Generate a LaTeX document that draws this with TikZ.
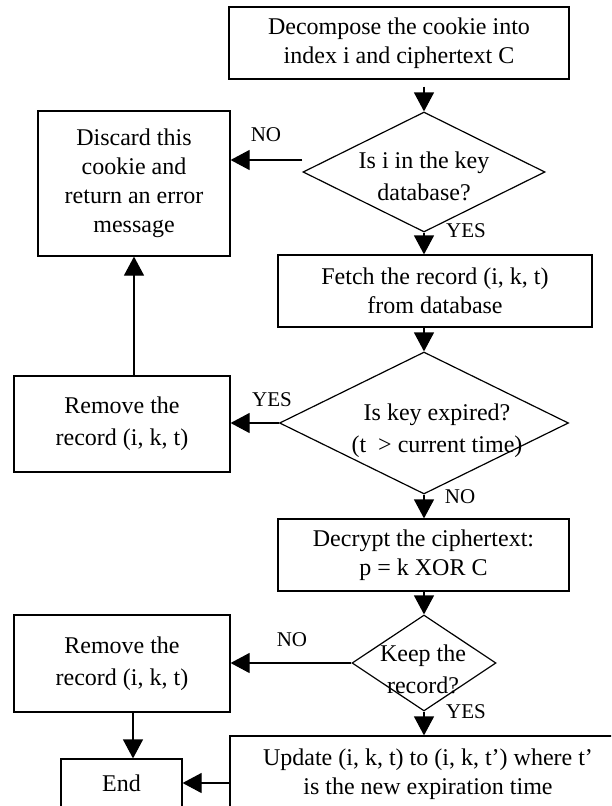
\documentclass[tikz,border=0pt]{standalone}
\usepackage{fontspec}
\setmainfont{Liberation Serif}
\usetikzlibrary{shapes.geometric,arrows.meta}
\begin{document}
\begin{tikzpicture}[x=1pt,y=-1pt,
 box/.style={draw,line width=1.2pt,inner sep=0pt,align=center,font=\fontsize{24}{29}\selectfont},
 dia/.style={draw,diamond,line width=1.2pt,inner sep=0pt},
 txt/.style={align=center,font=\fontsize{24}{29}\selectfont,inner sep=0pt},
 lab/.style={font=\fontsize{21}{24}\selectfont,inner sep=0pt},
 arr/.style={line width=1.2pt,-{Triangle[length=19pt,width=20pt]}}]
\clip (0,0) rectangle (611,806);
\node[box,minimum width=340pt,minimum height=72pt] (b1) at (399,43) {Decompose the cookie into\\index i and ciphertext C};
\node[dia,minimum width=242pt,minimum height=120pt] (d1) at (424,172) {};
\node[txt] (t1) at (424,176) {Is i in the key\\[3pt]database?};
\node[box,minimum width=192pt,minimum height=145pt] (disc) at (134,183.5) {Discard this\\cookie and\\return an error\\message};
\node[box,minimum width=314pt,minimum height=72pt] (b3) at (435,291) {Fetch the record (i, k, t)\\from database};
\node[dia,minimum width=289pt,minimum height=142pt] (d2) at (424,423) {};
\node[txt] (t2) at (437,431) {Is key expired?\\[3pt](t~ > current time)};
\node[box,minimum width=216pt,minimum height=96pt] (r1) at (122,424) {Remove the\\[3pt]record (i, k, t)};
\node[box,minimum width=291pt,minimum height=72pt] (b4) at (423.5,555) {Decrypt the ciphertext:\\p = k XOR C};
\node[dia,minimum width=144pt,minimum height=96pt] (d3) at (424,663) {};
\node[txt] (t3) at (423,669) {Keep the\\[3pt]record?};
\node[box,minimum width=216pt,minimum height=97pt] (r2) at (122,663.5) {Remove the\\[3pt]record (i, k, t)};
\node[box,minimum width=396pt,minimum height=76pt] (b5) at (428,774) {Update (i, k, t) to (i, k, t’) where t’\\is the new expiration time};
\node[box,minimum width=121pt,minimum height=48pt] (end) at (121.5,783) {End};
\node[lab] (l1) at (266,135) {NO};
\node[lab] (l2) at (466,231) {YES};
\node[lab] (l3) at (272,400) {YES};
\node[lab] (l4) at (460,497) {NO};
\node[lab] (l5) at (292,640) {NO};
\node[lab] (l6) at (466,712) {YES};
\draw[arr,shorten <=7pt] (d1.north |- b1.south) -- (d1.north);
\draw[arr] ([yshift=12pt]d1.west) -- ([yshift=12pt]d1.west -| disc.east);
\draw[arr] (d1.south) -- (d1.south |- b3.north);
\draw[arr] (d2.north |- b3.south) -- (d2.north);
\draw[arr] (d2.west) -- (d2.west -| r1.east);
\draw[arr] (disc.south |- r1.north) -- (disc.south);
\draw[arr] (d2.south) -- (d2.south |- b4.north);
\draw[arr] (d3.north |- b4.south) -- (d3.north);
\draw[arr] (d3.west) -- (d3.west -| r2.east);
\draw[arr] ([xshift=11pt]r2.south) -- ([xshift=11pt]r2.south |- end.north);
\draw[arr] (d3.south) -- (d3.south |- b5.north);
\draw[arr] (b5.west |- end.east) -- (end.east);
\end{tikzpicture}
\end{document}
